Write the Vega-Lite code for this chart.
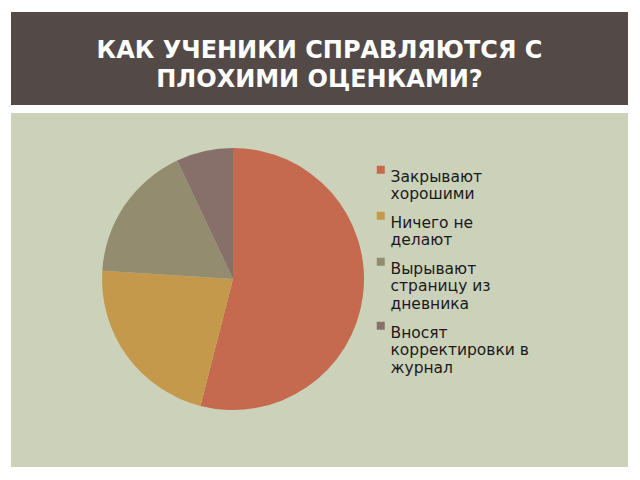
{
  "$schema": "https://vega.github.io/schema/vega-lite/v6.json",
  "background": "white",
  "padding": {"left": 11, "top": 12, "right": 12, "bottom": 13},
  "spacing": 8,
  "config": {"view": {"stroke": null}, "font": "DejaVu Sans"},
  "vconcat": [
    {
      "width": 617,
      "height": 93,
      "view": {"fill": "#534A47", "stroke": null},
      "data": {"values": [{"slide": "title"}]},
      "mark": {"type": "text", "color": "white", "font": "DejaVu Sans", "fontWeight": "bold", "fontSize": 24, "lineHeight": 29, "baseline": "middle", "align": "center", "dy": -8},
      "encoding": {"text": {"value": ["КАК УЧЕНИКИ СПРАВЛЯЮТСЯ С", "ПЛОХИМИ ОЦЕНКАМИ?"]}}
    },
    {
      "width": 617,
      "height": 354,
      "view": {"fill": "#CCD2BA", "stroke": null},
      "data": {"values": [
        {"name": "Закрывают хорошими", "value": 54},
        {"name": "Ничего не делают", "value": 22},
        {"name": "Вырывают страницу из дневника", "value": 17},
        {"name": "Вносят корректировки в журнал", "value": 7}
      ]},
      "mark": {"type": "arc", "outerRadius": 131},
      "encoding": {
        "theta": {"field": "value", "type": "quantitative", "stack": true},
        "order": {"field": "value", "sort": "descending"},
        "x": {"value": 222},
        "y": {"value": 166},
        "color": {
          "field": "name",
          "type": "nominal",
          "sort": null,
          "scale": {
            "domain": ["Закрывают хорошими", "Ничего не делают", "Вырывают страницу из дневника", "Вносят корректировки в журнал"],
            "range": ["#C5694F", "#C4994C", "#948C6E", "#877069"]
          },
          "legend": {
            "orient": "none",
            "legendX": 362,
            "legendY": 150,
            "title": null,
            "symbolType": "square",
            "symbolSize": 64,
            "symbolStrokeWidth": 0,
            "labelFont": "DejaVu Sans",
            "labelFontSize": 15.5,
            "labelColor": "#1a1a1a",
            "labelBaseline": "top",
            "labelOffset": 2,
            "rowPadding": 5,
            "labelLimit": 300,
            "labelExpr": "datum.label == 'Закрывают хорошими' ? ['Закрывают', 'хорошими'] : datum.label == 'Ничего не делают' ? ['Ничего не', 'делают'] : datum.label == 'Вырывают страницу из дневника' ? ['Вырывают', 'страницу из', 'дневника'] : ['Вносят', 'корректировки в', 'журнал']"
          }
        }
      }
    }
  ]
}
